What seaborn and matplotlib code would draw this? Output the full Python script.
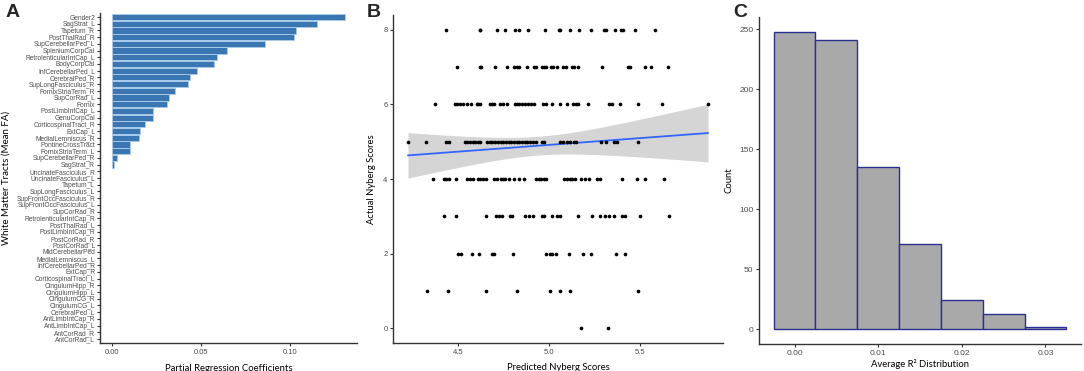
import numpy as np
import pandas as pd
import matplotlib
matplotlib.use("Agg")
import matplotlib.pyplot as plt
import seaborn as sns

# ---------------- Data ----------------
tracts = ["Gender2", "SagStrat_L", "Tapetum_R", "PostThalRad_R", "SupCerebellarPed_L",
          "SpleniumCorpCal", "RetrolenticularIntCap_L", "BodyCorpCal", "InfCerebellarPed_L",
          "CerebralPed_R", "SupLongFasciculus_R", "FornixStriaTerm_R", "SupCorRad_L", "Fornix",
          "PostLimbIntCap_L", "GenuCorpCal", "CorticospinalTract_R", "ExtCap_L",
          "MedialLemniscus_R", "PontineCrossTract", "FornixStriaTerm_L", "SupCerebellarPed_R",
          "SagStrat_R", "UncinateFasciculus_R", "UncinateFasciculus_L", "Tapetum_L",
          "SupLongFasciculus_L", "SupFrontOccFasciculus_R", "SupFrontOccFasciculus_L",
          "SupCorRad_R", "RetrolenticularIntCap_R", "PostThalRad_L", "PostLimbIntCap_R",
          "PostCorRad_R", "PostCorRad_L", "MidCerebellarPed", "MedialLemniscus_L",
          "InfCerebellarPed_R", "ExtCap_R", "CorticospinalTract_L", "CingulumHipp_R",
          "CingulumHipp_L", "CingulumCG_R", "CingulumCG_L", "CerebralPed_L",
          "AntLimbIntCap_R", "AntLimbIntCap_L", "AntCorRad_R", "AntCorRad_L"]
coefs = [0.1312, 0.1153, 0.1035, 0.1026, 0.0859, 0.0648, 0.0592, 0.0575, 0.0477,
         0.0440, 0.0431, 0.0356, 0.0322, 0.0311, 0.0232, 0.0232, 0.0189, 0.0159,
         0.0155, 0.0105, 0.0101, 0.0030, 0.0015] + [0.0] * 26

pred_8 = [4.432, 4.617, 4.622, 4.710, 4.754, 4.814, 4.833, 4.884, 4.977, 5.054, 5.059,
          5.112, 5.162, 5.226, 5.299, 5.313, 5.361, 5.394, 5.403, 5.472, 5.580]
pred_7 = [4.491, 4.619, 4.626, 4.701, 4.769, 4.805, 4.820, 4.831, 4.875, 4.918, 4.929,
          4.961, 4.973, 4.981, 5.010, 5.021, 5.043, 5.074, 5.092, 5.127, 5.134, 5.158,
          5.288, 5.432, 5.443, 5.523, 5.560, 5.650]
pred_6 = [4.374, 4.482, 4.495, 4.509, 4.526, 4.546, 4.568, 4.601, 4.610, 4.622, 4.674,
          4.686, 4.696, 4.728, 4.747, 4.765, 4.811, 4.823, 4.836, 4.851, 4.869, 4.882,
          4.897, 4.915, 4.966, 4.982, 5.012, 5.056, 5.098, 5.129, 5.147, 5.158, 5.213,
          5.330, 5.344, 5.386, 5.487, 5.618, 5.871]
pred_5 = [4.224, 4.321, 4.432, 4.452, 4.537, 4.549, 4.564, 4.579, 4.593, 4.608, 4.622,
          4.659, 4.674, 4.688, 4.703, 4.717, 4.732, 4.747, 4.761, 4.776, 4.791, 4.805,
          4.820, 4.834, 4.849, 4.864, 4.878, 4.893, 4.911, 4.929, 4.957, 4.973, 5.061,
          5.077, 5.098, 5.112, 5.134, 5.149, 5.286, 5.311, 5.353, 5.372, 5.485]
pred_4 = [4.363, 4.421, 4.434, 4.452, 4.485, 4.546, 4.562, 4.582, 4.608, 4.622, 4.637,
          4.654, 4.696, 4.714, 4.732, 4.747, 4.759, 4.778, 4.805, 4.833, 4.860, 4.929,
          4.942, 4.955, 4.970, 4.984, 5.079, 5.098, 5.112, 5.127, 5.143, 5.171, 5.198,
          5.216, 5.262, 5.280, 5.399, 5.481, 5.523, 5.629]
pred_3 = [4.421, 4.485, 4.650, 4.705, 4.723, 4.741, 4.783, 4.796, 4.869, 4.887, 4.911,
          4.961, 4.973, 5.015, 5.043, 5.057, 5.156, 5.235, 5.280, 5.308, 5.326, 5.353,
          5.399, 5.417, 5.500, 5.657]
pred_2 = [4.500, 4.513, 4.577, 4.613, 4.686, 4.699, 4.800, 4.984, 5.006, 5.015, 5.039,
          5.107, 5.185, 5.226, 5.368, 5.414]
pred_1 = [4.326, 4.445, 4.650, 4.823, 5.003, 5.056, 5.112, 5.487]
pred_0 = [5.171, 5.321]
score_groups = {8: pred_8, 7: pred_7, 6: pred_6, 5: pred_5, 4: pred_4,
                3: pred_3, 2: pred_2, 1: pred_1, 0: pred_0}

r2_bin_centers = [0.000, 0.005, 0.010, 0.015, 0.020, 0.025, 0.030]
r2_counts = [248, 241, 135, 71, 24, 13, 2]
r2_bin_width = 0.005

# ---------------- Figure ----------------
sns.set_theme(style="white")
plt.rcParams['font.family'] = ['Liberation Sans', 'DejaVu Sans']

W, H = 1084, 371
fig = plt.figure(figsize=(W / 100, H / 100), dpi=100)

def px_axes(l, t, r, b):
    return fig.add_axes([l / W, 1 - b / H, (r - l) / W, (b - t) / H])

tick_col = "#4D4D4D"
spine_col = "#333333"
lab = dict(family="Lato", size=6.8, color="black")

def style(ax):
    sns.despine(ax=ax)
    for s in ["left", "bottom"]:
        ax.spines[s].set_color(spine_col)
        ax.spines[s].set_linewidth(1.0)
    ax.tick_params(axis="both", which="both", length=2.5, width=0.8, color=spine_col,
                   labelcolor=tick_col, labelsize=5.5, pad=1.5, left=True, bottom=True)

# ---- Panel A ----
axA = px_axes(100, 13, 357, 343)
dfA = pd.DataFrame({"tract": tracts, "coef": coefs})
sns.barplot(data=dfA, x="coef", y="tract", orient="h", ax=axA, color="#3A76B2",
            edgecolor="#A9C9E8", linewidth=0.7, width=0.92, saturation=1)
for p in axA.patches:
    if p.get_width() == 0:
        p.set_linewidth(0)
axA.set_xlim(-0.0066, 0.1378)
axA.set_ylim(len(tracts) - 0.4, -0.6)
axA.set_xticks([0.0, 0.05, 0.10])
axA.set_xticklabels(["0.00", "0.05", "0.10"])
style(axA)
axA.tick_params(axis="y", labelsize=4.8, pad=1)
axA.set_xlabel("Partial Regression Coefficients", fontdict=lab, labelpad=6)
axA.set_ylabel("White Matter Tracts (Mean FA)", fontdict=dict(lab, size=7), labelpad=4)

# ---- Panel B ----
axB = px_axes(393, 15, 723, 343)
xs, ys = [], []
for sc, vals in score_groups.items():
    xs.extend(vals)
    ys.extend([sc] * len(vals))
xs = np.array(xs)
ys = np.array(ys, dtype=float)
dfB = pd.DataFrame({"pred": xs, "actual": ys})

# OLS fit with 95% confidence band
n = len(xs)
xm = xs.mean()
sxx = ((xs - xm) ** 2).sum()
slope = ((xs - xm) * (ys - ys.mean())).sum() / sxx
inter = ys.mean() - slope * xm
resid = ys - (inter + slope * xs)
s = np.sqrt((resid ** 2).sum() / (n - 2))
grid = np.linspace(xs.min(), xs.max(), 80)
fit = inter + slope * grid
se = s * np.sqrt(1 / n + (grid - xm) ** 2 / sxx)
tcrit = 1.97
axB.fill_between(grid, fit - tcrit * se, fit + tcrit * se, color="#D5D5D5", lw=0, zorder=1)
sns.lineplot(x=grid, y=fit, ax=axB, color="#3366FF", lw=1.3, zorder=3)
sns.scatterplot(data=dfB, x="pred", y="actual", ax=axB, color="black", s=7,
                linewidth=0, zorder=4)
axB.set_xlim(4.142, 5.953)
axB.set_ylim(-0.4, 8.4)
axB.set_xticks([4.5, 5.0, 5.5])
axB.set_yticks([0, 2, 4, 6, 8])
style(axB)
axB.set_xlabel("Predicted Nyberg Scores", fontdict=lab, labelpad=5)
axB.set_ylabel("Actual Nyberg Scores", fontdict=lab, labelpad=5)

# ---- Panel C ----
axC = px_axes(759, 17, 1081, 344)
dfC = pd.DataFrame({"r2": r2_bin_centers, "count": r2_counts})
sns.histplot(data=dfC, x="r2", weights="count", binwidth=r2_bin_width,
             binrange=(r2_bin_centers[0] - r2_bin_width / 2,
                       r2_bin_centers[-1] + r2_bin_width / 2),
             ax=axC, color="#A9A9A9", edgecolor="#2B2F91", linewidth=1.0, alpha=1)
axC.set_xlim(-0.00425, 0.03425)
axC.set_ylim(-12.4, 260.4)
axC.set_xticks([0.0, 0.01, 0.02, 0.03])
axC.set_xticklabels(["0.00", "0.01", "0.02", "0.03"])
axC.set_yticks([0, 50, 100, 150, 200, 250])
style(axC)
axC.tick_params(labelsize=6)
axC.set_xlabel("Average R² Distribution", fontdict=lab, labelpad=2)
axC.set_ylabel("Count", fontdict=lab, labelpad=4)

# ---- Panel letters ----
for lbl, xp in [("A", 6), ("B", 367), ("C", 733)]:
    fig.text(xp / W, 1 - 4 / H, lbl, fontsize=14, fontweight="bold",
             family="Liberation Sans", ha="left", va="top")

fig.savefig("out.png", dpi=100)
